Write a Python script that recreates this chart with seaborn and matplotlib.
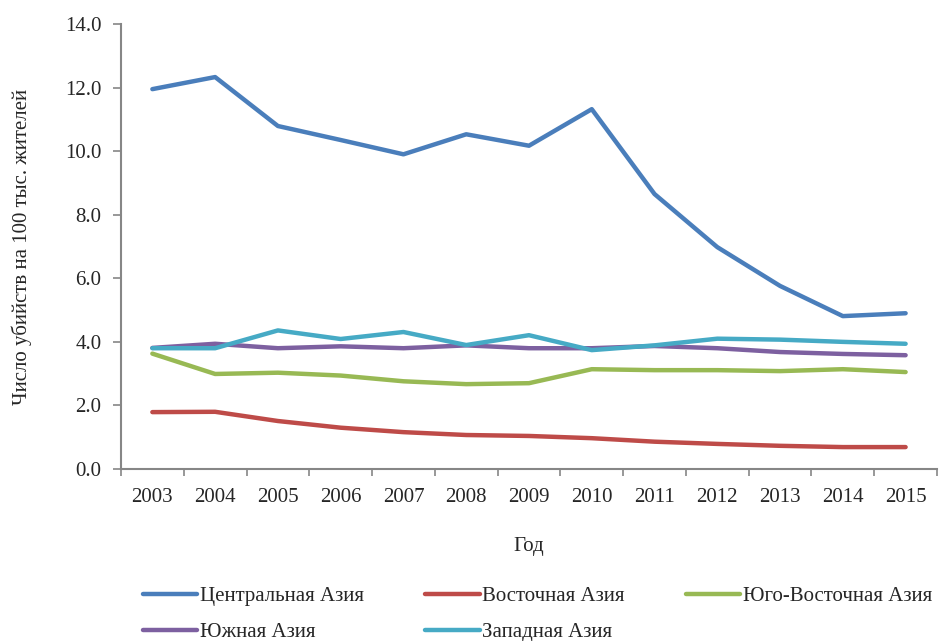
import pandas as pd
import seaborn as sns
import matplotlib.pyplot as plt
from matplotlib.ticker import MultipleLocator

years = list(range(2003, 2016))
central = [11.95, 12.33, 10.79, 10.35, 9.90, 10.53, 10.17, 11.32, 8.65, 6.98, 5.76, 4.81, 4.90]
east = [1.79, 1.80, 1.51, 1.30, 1.16, 1.07, 1.04, 0.97, 0.86, 0.79, 0.73, 0.69, 0.69]
southeast = [3.63, 2.99, 3.03, 2.94, 2.76, 2.67, 2.70, 3.14, 3.11, 3.11, 3.08, 3.14, 3.05]
south = [3.81, 3.94, 3.80, 3.86, 3.80, 3.89, 3.80, 3.80, 3.87, 3.80, 3.68, 3.62, 3.58]
west = [3.80, 3.80, 4.36, 4.09, 4.31, 3.90, 4.21, 3.74, 3.89, 4.10, 4.07, 4.00, 3.94]

names = ['Центральная Азия', 'Восточная Азия', 'Юго-Восточная Азия', 'Южная Азия', 'Западная Азия']
colors = ['#4a7ebb', '#be4b48', '#98b954', '#7d60a0', '#46aac5']

df = pd.concat([
    pd.DataFrame({'Год': years, 'value': vals, 'region': name})
    for name, vals in zip(names, [central, east, southeast, south, west])
])

sns.set_style('white')
plt.rcParams['font.family'] = ['Liberation Serif', 'DejaVu Serif']
fs = 15

fig = plt.figure(figsize=(9.4, 6.41), dpi=100)
ax = fig.add_axes([0.1287, 0.2683, 0.8681, 0.6943])
sns.lineplot(data=df, x='Год', y='value', hue='region', palette=colors,
             linewidth=3.2, ax=ax, solid_capstyle='round')

ax.set_xlim(2002.5, 2015.5)
ax.set_ylim(0, 14)
ax.set_xticks(years)
ax.set_xticklabels([str(y) for y in years], fontsize=fs)
ax.xaxis.set_minor_locator(MultipleLocator(1, offset=0.5))
ax.tick_params(axis='x', which='major', length=0, pad=14)
ax.tick_params(axis='x', which='minor', length=5, color='#868686', width=1.2, direction='out', bottom=True)
ax.set_yticks(range(0, 15, 2))
ax.set_yticklabels([f'{v:.1f}' for v in range(0, 15, 2)], fontsize=fs)
ax.tick_params(axis='y', length=6, color='#868686', width=1.2, direction='out', left=True, pad=8)

for s in ['top', 'right']:
    ax.spines[s].set_visible(False)
for s in ['left', 'bottom']:
    ax.spines[s].set_color('#868686')
    ax.spines[s].set_linewidth(1.5)

ax.set_xlabel('Год', fontsize=fs, labelpad=21)
ax.set_ylabel('Число убийств на 100 тыс. жителей', fontsize=fs, labelpad=24)

handles, labels = ax.get_legend_handles_labels()
ax.get_legend().remove()
order = [0, 3, 1, 4, 2]
fig.legend([handles[i] for i in order], [labels[i] for i in order],
           loc='upper left', bbox_to_anchor=(0.1436, 0.098), ncol=3, frameon=False,
           fontsize=fs, handlelength=2.6, handletextpad=0.12, columnspacing=2.95,
           labelspacing=0.8, borderaxespad=0)

fig.savefig('out.png', dpi=100)
